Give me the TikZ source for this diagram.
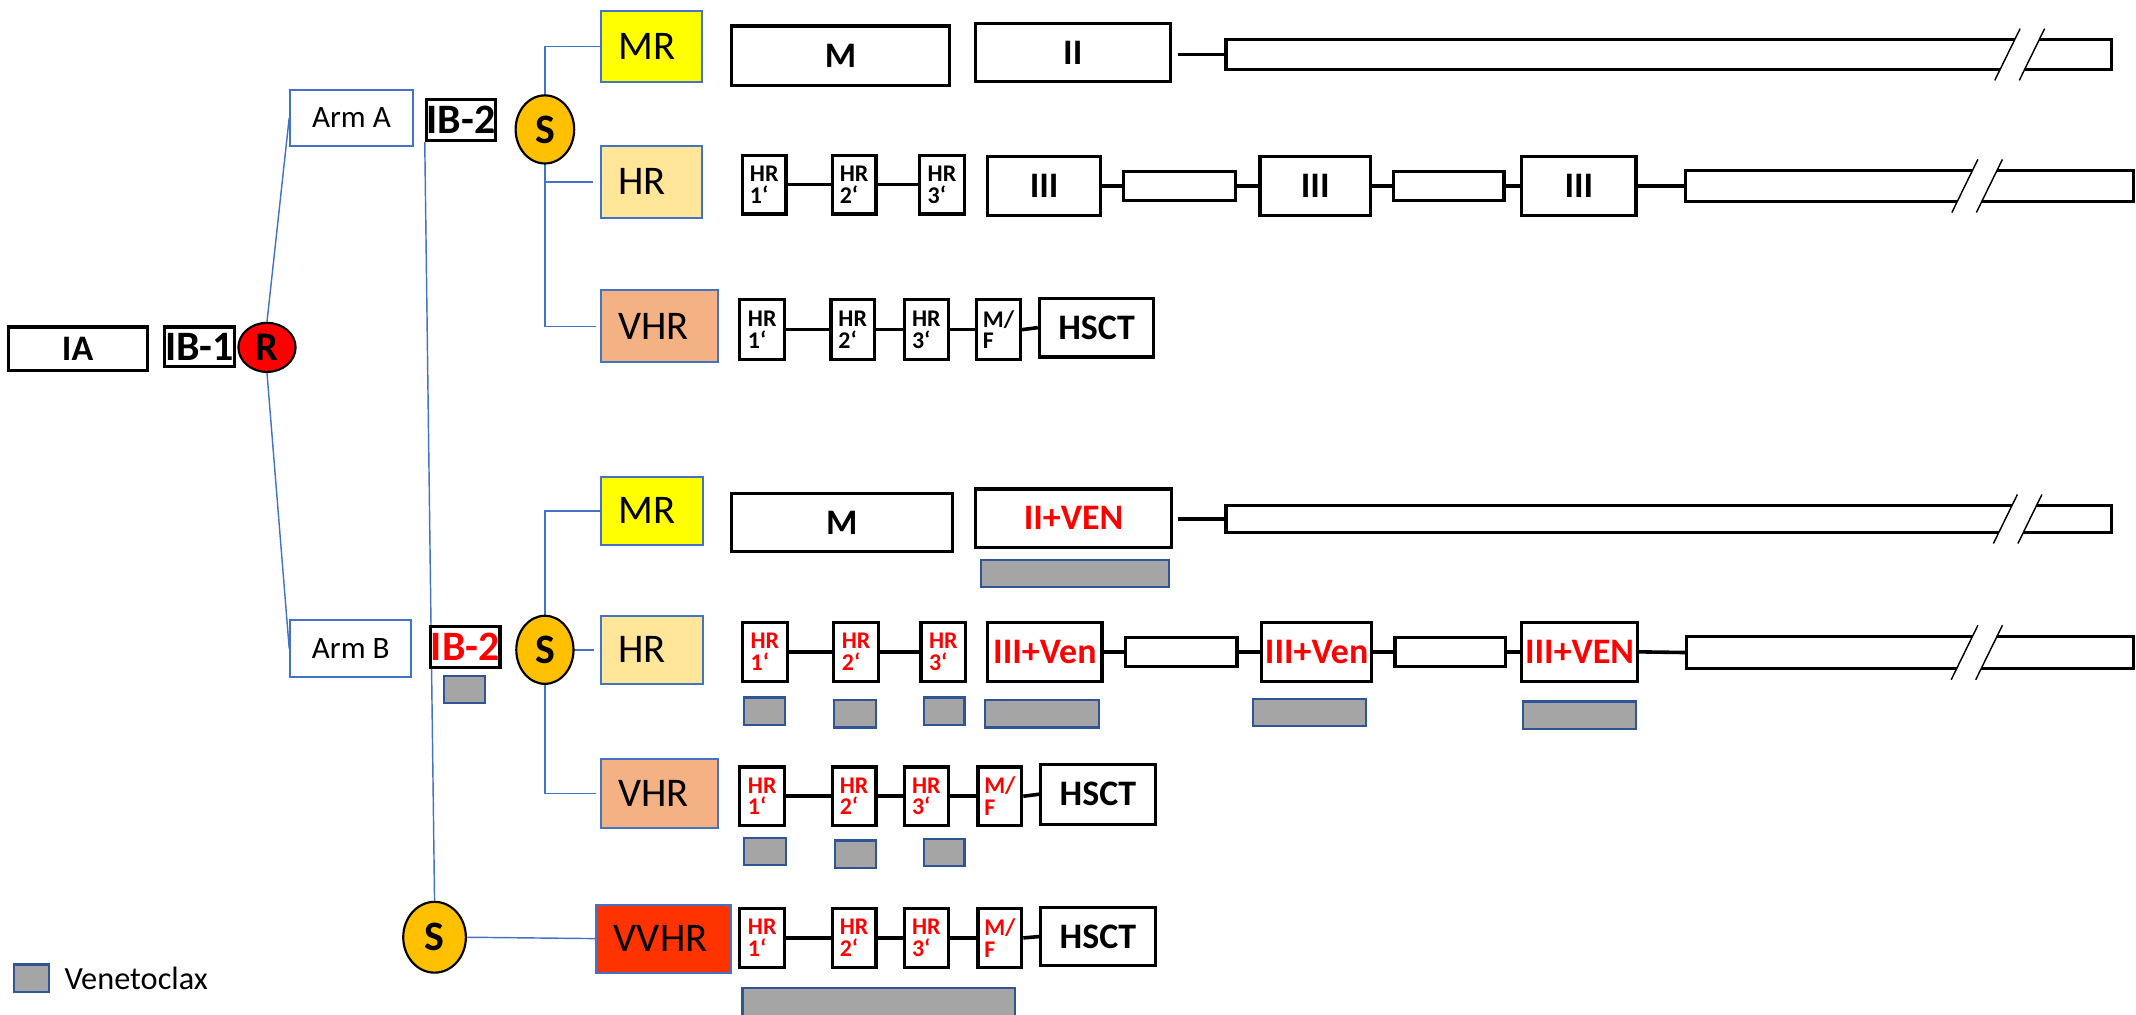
\documentclass[tikz,border=0pt]{standalone}
\usepackage{fontspec}
\setmainfont{Carlito}
\usetikzlibrary{shapes.geometric,calc,backgrounds}

\definecolor{lnblue}{HTML}{4472C4}
\definecolor{mrfill}{HTML}{FFFF00}
\definecolor{hrfill}{HTML}{FFE699}
\definecolor{vhrfill}{HTML}{F4B183}
\definecolor{vvhrfill}{HTML}{FF3300}
\definecolor{sfill}{HTML}{FFC000}
\definecolor{rfill}{HTML}{FF0000}
\definecolor{venfill}{HTML}{A5A5A5}
\definecolor{venline}{HTML}{2F5597}
\definecolor{txtred}{HTML}{FF0000}

% box given by its corners: style, name, x1, y1, x2, y2, text
\newcommand\rbox[7]{\node[#1, minimum width={(#5-#3)*0.02cm}, minimum height={(#6-#4)*0.02cm}] (#2) at ({(#3+#5)/2},{(#4+#6)/2}) {#7};}
% risk group box with left-set label: name, x1, y1, x2, y2, fill, text width, text
\newcommand\riskbox[8]{\node[risk, fill=#6, minimum width={(#4-#2)*0.02cm}, minimum height={(#5-#3)*0.02cm}, text width=#7] (#1) at ({(#2+#4)/2},{(#3+#5)/2}) {#8};}
% break mark on a long bar: x of first slash at top edge, top y, bottom y
\newcommand\brk[3]{%
  \fill[white] ({#1+0.49*2},{#2-2}) -- ({#1+18+0.49*2},{#2-2}) -- ({#1+18-0.49*(#3-#2+2)},{#3+2}) -- ({#1-0.49*(#3-#2+2)},{#3+2}) -- cycle;
  \draw[line width=0.6pt] ({#1+0.49*8},{#2-8}) -- ({#1-0.49*(#3-#2+8)},{#3+8});
  \draw[line width=0.6pt] ({#1+18+0.49*8},{#2-8}) -- ({#1+18-0.49*(#3-#2+8)},{#3+8});
}

\tikzset{
  blk/.style={draw=black, line width=1.35pt, fill=white, inner sep=0pt, rectangle},
  bigb/.style={font=\fontsize{15}{17}\selectfont\bfseries},
  ibf/.style={font=\fontsize{17.5}{19}\selectfont\bfseries},
  smalltxt/.style={font=\fontsize{10}{9}\selectfont\bfseries, align=left},
  redtxt/.style={text=txtred},
  risk/.style={draw=lnblue, line width=0.8pt, inner ysep=0pt, inner xsep=0.26cm, align=left, font=\fontsize{17}{19}\selectfont},
  arm/.style={draw=lnblue, line width=0.8pt, fill=white, inner sep=0pt, font=\fontsize{13}{15}\selectfont},
  venbar/.style={draw=venline, line width=0.9pt, fill=venfill, inner sep=0pt},
  sbub/.style={ellipse, draw=black, line width=0.9pt, fill=sfill, inner sep=0pt, font=\fontsize{17.5}{19}\selectfont\bfseries},
  tree/.style={draw=lnblue, line width=0.6pt},
  link/.style={draw=black, line width=1.5pt},
}

\begin{document}
\begin{tikzpicture}[x=0.02cm, y=-0.02cm]
\useasboundingbox (0,0) rectangle (1568,745);

% induction and randomisation
\rbox{blk,bigb}{IA}{6}{240}{108}{272}{IA}
\rbox{blk,ibf}{IBone}{121}{240}{172}{269}{IB-1}
\node[ellipse, draw=black, line width=0.9pt, fill=rfill, inner sep=0pt, minimum width=0.84cm, minimum height=0.72cm, font=\fontsize{17}{19}\selectfont\bfseries] (R) at (196,255) {R};

\rbox{arm}{ArmA}{213}{66}{303}{107}{Arm A}
\rbox{arm}{ArmB}{213}{455}{302}{497}{Arm B}

\rbox{blk,ibf}{IBA}{313}{73}{364}{103}{IB-2}
\rbox{blk,ibf,redtxt}{IBB}{316}{460}{367}{490}{IB-2}
\rbox{venbar}{vIBB}{326}{496}{356}{516}{}

\node[sbub, minimum width=0.86cm, minimum height=1.0cm] (SA) at (400,95) {S};
\node[sbub, minimum width=0.84cm, minimum height=1.0cm] (SB) at (400,477) {S};
\node[sbub, minimum width=0.92cm, minimum height=1.04cm] (S3) at (319,688) {S};

% risk groups
\riskbox{MRA}{441}{8}{515}{60}{mrfill}{0.96cm}{MR}
\riskbox{HRA}{441}{107}{515}{160}{hrfill}{0.96cm}{HR}
\riskbox{VHRA}{441}{213}{527}{266}{vhrfill}{1.2cm}{VHR}
\riskbox{MRB}{441}{350}{516}{400}{mrfill}{0.98cm}{MR}
\riskbox{HRB}{441}{452}{516}{502}{hrfill}{0.98cm}{HR}
\riskbox{VHRB}{441}{557}{527}{608}{vhrfill}{1.2cm}{VHR}
\riskbox{VVHR}{438}{664}{536}{714}{vvhrfill}{1.46cm}{VVHR}

% Arm A, MR
\rbox{blk,bigb}{MA}{537}{19}{697}{63}{M}
\rbox{blk,bigb}{IIA}{716}{17}{859}{60}{II}
\rbox{blk}{LA}{900}{29}{1550}{51}{}
\draw[link] ($(LA.west)+(-34,0)$) -- (LA.west);
\brk{1479}{29}{51}

% Arm A, HR
\rbox{blk,smalltxt}{haA}{545}{114}{577}{157}{HR\\1‘}
\rbox{blk,smalltxt}{hbA}{611}{114}{643}{157}{HR\\2‘}
\rbox{blk,smalltxt}{hcA}{675}{114}{708}{157}{HR\\3‘}
\rbox{blk,bigb}{taA}{725}{115}{808}{158}{III}
\rbox{blk}{paA}{825}{126}{907}{147}{}
\rbox{blk,bigb}{tbA}{925}{115}{1006}{158}{III}
\rbox{blk}{pbA}{1023}{126}{1104}{147}{}
\rbox{blk,bigb}{tcA}{1117}{115}{1201}{158}{III}
\rbox{blk}{LHA}{1237}{125}{1566}{148}{}
\draw[link] (haA.east) -- (hbA.west);
\draw[link] (hbA.east) -- (hcA.west);
\draw[link] (taA.east) -- (paA.west);
\draw[link] (paA.east) -- (tbA.west);
\draw[link] (tbA.east) -- (pbA.west);
\draw[link] (pbA.east) -- (tcA.west);
\draw[link] (tcA.east) -- (LHA.west);
\brk{1448}{125}{148}

% Arm A, VHR
\rbox{blk,smalltxt}{vaA}{543}{220}{576}{264}{HR\\1‘}
\rbox{blk,smalltxt}{vbA}{610}{220}{642}{264}{HR\\2‘}
\rbox{blk,smalltxt}{vcA}{664}{220}{696}{264}{HR\\3‘}
\rbox{blk,smalltxt}{mfA}{717}{220}{749}{264}{M/\\F}
\rbox{blk,bigb}{hsA}{763}{219}{847}{262}{HSCT}
\draw[link] (vaA.east) -- (vbA.west);
\draw[link] (vbA.east) -- (vcA.west);
\draw[link] (vcA.east) -- (mfA.west);
\draw[link] (mfA.east) -- (hsA.west);

% Arm B, MR
\rbox{blk,bigb}{MB}{537}{362}{699}{405}{M}
\rbox{blk,bigb,redtxt}{IIB}{716}{359}{860}{402}{II+VEN}
\rbox{blk}{LB}{900}{371}{1550}{391}{}
\draw[link] ($(LB.west)+(-34,0)$) -- (LB.west);
\brk{1477}{371}{391}
\rbox{venbar}{vIIB}{720}{411}{858}{431}{}

% Arm B, HR
\rbox{blk,smalltxt,redtxt}{haB}{545}{457}{578}{500}{HR\\1‘}
\rbox{blk,smalltxt,redtxt}{hbB}{612}{457}{645}{500}{HR\\2‘}
\rbox{blk,smalltxt,redtxt}{hcB}{676}{457}{709}{500}{HR\\3‘}
\rbox{blk,bigb,redtxt}{taB}{725}{457}{809}{500}{III+Ven}
\rbox{blk}{paB}{826}{468}{908}{489}{}
\rbox{blk,bigb,redtxt}{tbB}{926}{457}{1007}{500}{III+Ven}
\rbox{blk}{pbB}{1024}{468}{1105}{489}{}
\rbox{blk,bigb,redtxt}{tcB}{1117}{457}{1202}{500}{III+VEN}
\rbox{blk}{LHB}{1238}{467}{1566}{491}{}
\draw[link] (haB.east) -- (hbB.west);
\draw[link] (hbB.east) -- (hcB.west);
\draw[link] (taB.east) -- (paB.west);
\draw[link] (paB.east) -- (tbB.west);
\draw[link] (tbB.east) -- (pbB.west);
\draw[link] (pbB.east) -- (tcB.west);
\draw[link] (tcB.east) -- (LHB.west);
\brk{1448}{467}{491}
\rbox{venbar}{vhaB}{546}{512}{576}{532}{}
\rbox{venbar}{vhbB}{612}{514}{643}{534}{}
\rbox{venbar}{vhcB}{678}{512}{708}{532}{}
\rbox{venbar}{vtaB}{723}{514}{807}{534}{}
\rbox{venbar}{vtbB}{920}{513}{1003}{533}{}
\rbox{venbar}{vtcB}{1118}{515}{1201}{535}{}

% Arm B, VHR
\rbox{blk,smalltxt,redtxt}{vaB}{543}{563}{576}{606}{HR\\1‘}
\rbox{blk,smalltxt,redtxt}{vbB}{611}{563}{643}{606}{HR\\2‘}
\rbox{blk,smalltxt,redtxt}{vcB}{664}{563}{696}{606}{HR\\3‘}
\rbox{blk,smalltxt,redtxt}{mfB}{718}{563}{750}{606}{M/\\F}
\rbox{blk,bigb}{hsB}{764}{561}{848}{605}{HSCT}
\draw[link] (vaB.east) -- (vbB.west);
\draw[link] (vbB.east) -- (vcB.west);
\draw[link] (vcB.east) -- (mfB.west);
\draw[link] (mfB.east) -- (hsB.west);
\rbox{venbar}{vvaB}{546}{615}{577}{635}{}
\rbox{venbar}{vvbB}{613}{617}{643}{637}{}
\rbox{venbar}{vvcB}{678}{616}{708}{636}{}

% Arm B, VVHR
\rbox{blk,smalltxt,redtxt}{waB}{543}{667}{576}{710}{HR\\1‘}
\rbox{blk,smalltxt,redtxt}{wbB}{611}{667}{643}{710}{HR\\2‘}
\rbox{blk,smalltxt,redtxt}{wcB}{664}{667}{696}{710}{HR\\3‘}
\rbox{blk,smalltxt,redtxt}{wmB}{718}{667}{750}{710}{M/\\F}
\rbox{blk,bigb}{whB}{764}{666}{848}{709}{HSCT}
\draw[link] (waB.east) -- (wbB.west);
\draw[link] (wbB.east) -- (wcB.west);
\draw[link] (wcB.east) -- (wmB.west);
\draw[link] (wmB.east) -- (whB.west);
\rbox{venbar}{vwB}{545}{725}{745}{747}{}

% legend
\rbox{venbar}{legbox}{10}{708}{36}{728}{}
\node[anchor=west, inner sep=0pt, font=\fontsize{13.5}{16}\selectfont] (legtxt) at (47,718) {Venetoclax};

% blue tree lines behind the nodes
\begin{scope}[on background layer]
\draw[tree] (R.north) -- (ArmA.west);
\draw[tree] (R.south) -- (ArmB.west);
\draw[tree] (IBA.south west) -- (S3.north);
\draw[tree] (MRA.west) -- (MRA.west -| SA.center) -- (VHRA.west -| SA.center) -- ($(VHRA.west)+(-3,0)$);
\draw[tree] (HRA.west -| SA.center) -- ($(HRA.west)+(-5,0)$);
\draw[tree] (MRB.west) -- (MRB.west -| SB.center) -- (VHRB.west -| SB.center) -- ($(VHRB.west)+(-3,0)$);
\draw[tree] (SB.center) -- ($(HRB.west)+(-4,0)$);
\draw[tree] (S3.east) -- (VVHR.west);
\end{scope}
\end{tikzpicture}
\end{document}
